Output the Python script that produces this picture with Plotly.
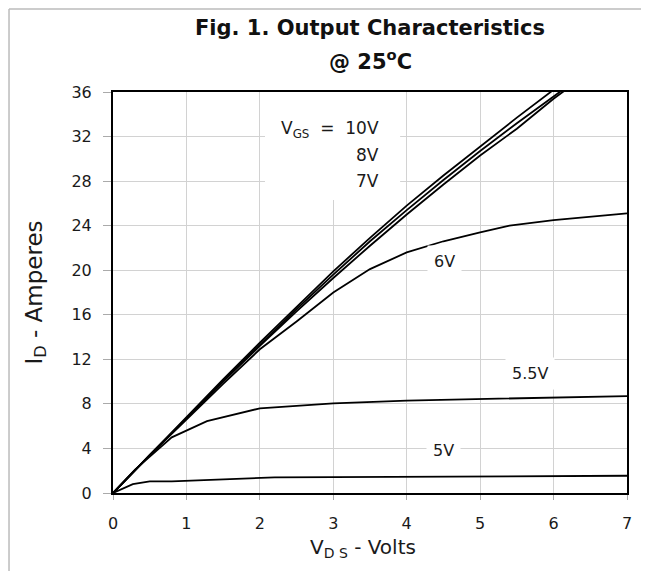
import plotly.graph_objects as go

# ---- data ----
vds_main = [0, 0.5, 1, 1.5, 2, 2.5, 3, 3.5, 4, 4.5, 5, 5.5, 6, 6.5]
id_10v = [0, 3.4, 6.8, 10.2, 13.5, 16.7, 19.9, 22.9, 25.8, 28.5, 31.1, 33.7, 36.2, 38.6]
id_8v = [0, 3.4, 6.7, 10.1, 13.3, 16.5, 19.6, 22.6, 25.4, 28.1, 30.7, 33.2, 35.6, 38.0]
id_7v = [0, 3.4, 6.7, 10.0, 13.2, 16.3, 19.3, 22.2, 25.0, 27.7, 30.3, 32.7, 35.4, 37.8]

vds_6v = [0, 0.5, 1, 1.5, 2, 2.5, 3, 3.5, 4, 4.5, 5, 5.4, 6, 7]
id_6v = [0, 3.4, 6.6, 9.8, 12.9, 15.4, 18.0, 20.1, 21.6, 22.6, 23.4, 24.0, 24.5, 25.1]

vds_55v = [0, 0.3, 0.8, 1.28, 2.0, 2.2, 3, 4, 5, 6, 7]
id_55v = [0, 2.1, 5.0, 6.45, 7.6, 7.7, 8.05, 8.3, 8.45, 8.6, 8.7]

vds_5v = [0, 0.27, 0.5, 0.8, 2.2, 7]
id_5v = [0, 0.8, 1.05, 1.05, 1.4, 1.55]

x_ticks = [0, 1, 2, 3, 4, 5, 6, 7]
y_ticks = [0, 4, 8, 12, 16, 20, 24, 28, 32, 36]

FONT = "DejaVu Sans, Liberation Sans, Arial, sans-serif"
TXT = "#1a1a1a"

fig = go.Figure()
line = dict(color="black", width=1.8)
for xs, ys, name in [(vds_main, id_10v, "10V"), (vds_main, id_8v, "8V"), (vds_main, id_7v, "7V"),
                     (vds_6v, id_6v, "6V"), (vds_55v, id_55v, "5.5V"), (vds_5v, id_5v, "5V")]:
    fig.add_trace(go.Scatter(x=xs, y=ys, mode="lines", line=line, name=name, showlegend=False))

fig.update_layout(
    width=649, height=571,
    margin=dict(l=105, r=30, t=84, b=86),
    paper_bgcolor="white", plot_bgcolor="white",
    font=dict(family=FONT, color=TXT, size=16),
    showlegend=False,
)
fig.update_xaxes(range=[0, 7], tickvals=x_ticks, showgrid=True, gridcolor="#d2d2d2", gridwidth=1,
                 showline=True, linecolor="black", linewidth=2, mirror=True, zeroline=False,
                 ticks="outside", ticklen=5, tickcolor="#aaaaaa", ticklabelstandoff=10,
                 tickfont=dict(size=16, family=FONT, color=TXT))
fig.update_yaxes(range=[0, 36], tickvals=y_ticks, showgrid=True, gridcolor="#d2d2d2", gridwidth=1,
                 showline=True, linecolor="black", linewidth=2, mirror=True, zeroline=False,
                 ticks="outside", ticklen=8, tickcolor="#aaaaaa", ticklabelstandoff=8,
                 tickfont=dict(size=16, family=FONT, color=TXT))

# white box behind the VGS labels (hides gridlines)
fig.add_shape(type="rect", xref="x", yref="y", x0=2.07, x1=3.91, y0=26.3, y1=36,
              fillcolor="white", line=dict(width=0), layer="between")

ann = [
    dict(text="V<sub>GS</sub>&nbsp;&nbsp;=&nbsp;&nbsp;10V", x=3.65, y=32.6, xanchor="right"),
    dict(text="8V", x=3.65, y=30.3, xanchor="right"),
    dict(text="7V", x=3.65, y=28.0, xanchor="right"),
]
for a in ann:
    fig.add_annotation(xref="x", yref="y", yanchor="middle", showarrow=False,
                       font=dict(size=17, family=FONT, color=TXT), **a)
for text, x, y in [("6V", 4.52, 20.75), ("5.5V", 5.68, 10.7), ("5V", 4.5, 3.8)]:
    fig.add_annotation(xref="x", yref="y", x=x, y=y, text=text, showarrow=False,
                       bgcolor="white", borderpad=6, xanchor="center", yanchor="middle",
                       font=dict(size=16, family=FONT, color=TXT))

# title
fig.add_annotation(xref="paper", yref="paper", x=0.5, y=1.1596, text="<b>Fig. 1. Output Characteristics</b>",
                   showarrow=False, xanchor="center", yanchor="middle", font=dict(size=21, family=FONT, color="#111"))
fig.add_annotation(xref="paper", yref="paper", x=0.5, y=1.0798, text="<b>@ 25<sup>o</sup>C</b>",
                   showarrow=False, xanchor="center", yanchor="middle", font=dict(size=21, family=FONT, color="#111"))
# axis titles
fig.add_annotation(xref="paper", yref="paper", x=-0.1517, y=0.5, text="I<sub>D</sub> - Amperes", textangle=-90,
                   showarrow=False, xanchor="center", yanchor="middle", font=dict(size=23, family=FONT, color=TXT))
fig.add_annotation(xref="paper", yref="paper", x=0.486, y=-0.137, text="V<sub>D S</sub> - Volts",
                   showarrow=False, xanchor="center", yanchor="middle", font=dict(size=20, family=FONT, color=TXT))

# outer frame (left and top edges visible)
fig.add_shape(type="line", xref="paper", yref="paper", x0=-0.2023, x1=-0.2023, y0=-0.3, y1=1.207,
              line=dict(color="#bbbbbb", width=1.5), layer="above")
fig.add_shape(type="line", xref="paper", yref="paper", x0=-0.2023, x1=1.2, y0=1.207, y1=1.207,
              line=dict(color="#bbbbbb", width=1.5), layer="above")

fig.write_html("out.html")
